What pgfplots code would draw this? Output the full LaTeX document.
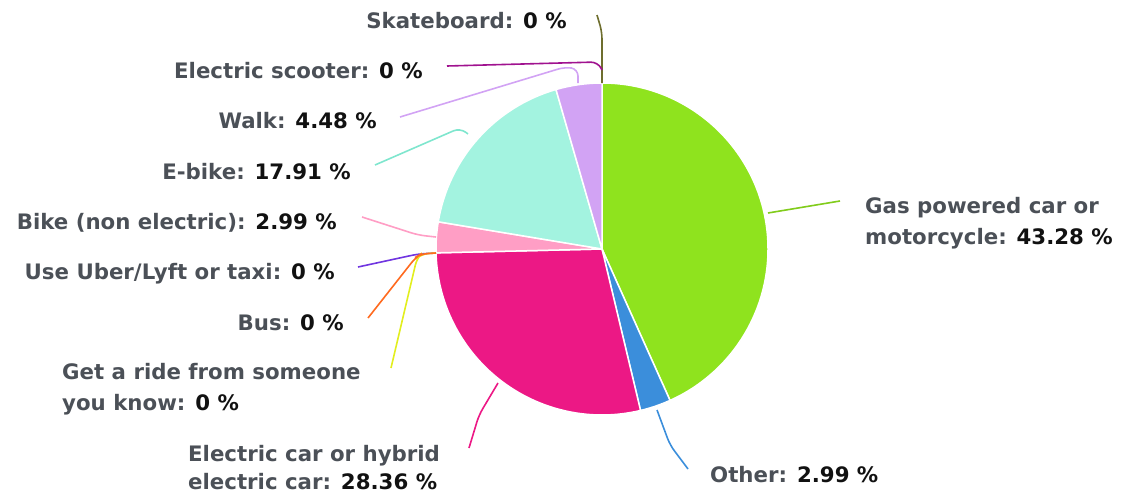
\documentclass[border=0pt]{standalone}
\usepackage{pgfplots}
\usepackage{pgfplotstable}
\pgfplotsset{compat=1.18}
\usepackage{fontspec}
\setmainfont{DejaVu Sans}

% slice colours
\definecolor{cgas}{HTML}{8FE31E}
\definecolor{cother}{HTML}{3B8EDB}
\definecolor{cecar}{HTML}{EC1885}
\definecolor{cbike}{HTML}{FF9EC5}
\definecolor{cebike}{HTML}{A3F3E0}
\definecolor{cwalk}{HTML}{D2A3F4}
% leader lines of the empty slices
\definecolor{cride}{HTML}{E2EE1E}
\definecolor{cbus}{HTML}{FF6A1F}
\definecolor{cuber}{HTML}{7035E0}
\definecolor{cscooter}{HTML}{A0128F}
\definecolor{cskate}{HTML}{6E6E2E}
\definecolor{cebikeline}{HTML}{7FE6CE}
% text
\definecolor{cname}{HTML}{4B5057}
\definecolor{cval}{HTML}{111111}

\pgfplotstableread{
key     value
gas     43.28
other   2.99
ecar    28.36
ride    0
bus     0
uber    0
bike    2.99
ebike   17.91
walk    4.48
scooter 0
skate   0
}\piedata

% pie centre and radius (1 unit = 1pt)
\def\cx{602}
\def\cy{249}
\def\rad{166}

\newcommand\slice[1]{%
  \fill[c#1, draw=white, line width=1.5pt] (axis cs:\cx,\cy)
    -- ++(\csname a@#1\endcsname:\rad pt)
    arc[start angle=\csname a@#1\endcsname, end angle=\csname b@#1\endcsname, radius=\rad pt]
    -- cycle;}
\newcommand\lab[5]{%
  \node[anchor=base #1, inner sep=0pt, text=cname,
    font=\bfseries\fontsize{21.3}{24}\selectfont] at (axis cs:#2,#3)
    {#4\textcolor{cval}{#5}};}

\begin{document}
\begin{tikzpicture}
% start angles and end angles, clockwise from 12 o'clock
\pgfplotstablegetrowsof{\piedata}
\pgfmathtruncatemacro\nrows{\pgfplotsretval-1}
\xdef\cumangle{90}
\pgfplotsforeachungrouped \i in {0,...,\nrows}{%
  \pgfplotstablegetelem{\i}{key}\of\piedata
  \let\key\pgfplotsretval
  \pgfplotstablegetelem{\i}{value}\of\piedata
  \pgfmathsetmacro\endangle{\cumangle-3.6*\pgfplotsretval}
  \expandafter\xdef\csname a@\key\endcsname{\cumangle}
  \expandafter\xdef\csname b@\key\endcsname{\endangle}
  \xdef\cumangle{\endangle}
}
\begin{axis}[
    hide axis,
    scale only axis,
    width=1127pt,
    height=495pt,
    xmin=0, xmax=1127,
    ymin=0, ymax=495,
    y dir=reverse,
    clip=false,
]
\coordinate (bl) at (axis cs:0,495);
\coordinate (tr) at (axis cs:1127,0);

\slice{gas}
\slice{other}
\slice{ecar}
\slice{bike}
\slice{ebike}
\slice{walk}

% leader lines
\begin{scope}[line width=1.6pt, rounded corners=7pt]
\draw[cskate] (axis cs:602,83) -- (axis cs:602,32) -- (axis cs:597,15);
\draw[cscooter] (axis cs:447,66) -- (axis cs:598,62) -- (axis cs:602,70);
\draw[cwalk] (axis cs:400,117) -- (axis cs:565,67) -- (axis cs:578,69) -- (axis cs:578,83);
\draw[cebikeline] (axis cs:375,165) -- (axis cs:460,128) -- (axis cs:468,134);
\draw[cbike] (axis cs:362,217) -- (axis cs:418,235) -- (axis cs:436,237);
\draw[cuber] (axis cs:358,267) -- (axis cs:418,254) -- (axis cs:436,253);
\draw[cride] (axis cs:391,368) -- (axis cs:417,258) -- (axis cs:421,254) -- (axis cs:436,253);
\draw[cbus] (axis cs:368,318) -- (axis cs:416,257) -- (axis cs:421,254) -- (axis cs:436,253);
\draw[cecar] (axis cs:469,448) -- (axis cs:479,415) -- (axis cs:498,383);
\draw[cother] (axis cs:657,410) -- (axis cs:670,445) -- (axis cs:688,469);
\draw[cgas!90!black] (axis cs:768,213) -- (axis cs:840,201);
\end{scope}

% labels
\lab{east}{567}{29}{Skateboard: }{0 \%}
\lab{east}{423}{78}{Electric scooter: }{0 \%}
\lab{east}{377}{128}{Walk: }{4.48 \%}
\lab{east}{351}{179}{E-bike: }{17.91 \%}
\lab{east}{337}{229}{Bike (non electric): }{2.99 \%}
\lab{east}{335}{279}{Use Uber/Lyft or taxi: }{0 \%}
\lab{east}{344}{330}{Bus: }{0 \%}
\lab{west}{62}{379}{Get a ride from someone}{}
\lab{west}{62}{410}{you know: }{0 \%}
\lab{west}{188}{461}{Electric car or hybrid}{}
\lab{west}{188}{489}{electric car: }{28.36 \%}
\lab{west}{710}{482}{Other: }{2.99 \%}
\lab{west}{865}{213}{Gas powered car or}{}
\lab{west}{865}{244}{motorcycle: }{43.28 \%}
\end{axis}
\pgfresetboundingbox
\path[use as bounding box] (bl) rectangle (tr);
\end{tikzpicture}
\end{document}
